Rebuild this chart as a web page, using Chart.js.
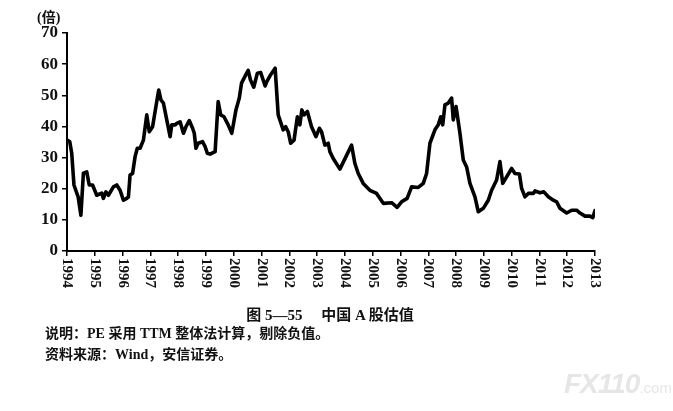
<!DOCTYPE html>
<html>
<head>
<meta charset="utf-8">
<script src="https://cdn.jsdelivr.net/npm/chart.js@4.4.0/dist/chart.umd.min.js"></script>
<style>
  body { margin: 0; background: #fff; }
  #wrap { position: relative; width: 673px; height: 411px; }
  .txt { position: absolute; color: #111; font-family: "Liberation Serif", "Noto Sans CJK SC", serif; font-weight: bold; white-space: nowrap; }
  #unit { left: 37px; top: 6px; font-size: 14px; }
  #title { left: 0; width: 660px; text-align: center; top: 303px; font-size: 15px; }
  #note1 { left: 45px; top: 322px; font-size: 14px; }
  #note2 { left: 45px; top: 343px; font-size: 14px; }
  #mark { left: 564px; top: 368px; font-family: "Liberation Sans", sans-serif; color: #e6e6e6; font-size: 28px; font-style: italic; letter-spacing: -1px; }
  #mark span { font-size: 15px; font-style: normal; font-weight: normal; letter-spacing: 0; }
</style>
</head>
<body>
<div id="wrap">
  <canvas id="peChart" width="673" height="411"></canvas>
  <div class="txt" id="unit">(倍)</div>
  <div class="txt" id="title">图 5—55　 中国 A 股估值</div>
  <div class="txt" id="note1">说明：PE 采用 TTM 整体法计算，剔除负值。</div>
  <div class="txt" id="note2">资料来源：Wind，安信证券。</div>
  <div class="txt" id="mark">FX110<span>.com</span></div>
</div>
<script>
// time in decimal years, A-share PE (TTM)
const dates = [1994.02, 1994.1, 1994.17, 1994.25, 1994.4, 1994.5, 1994.59, 1994.71, 1994.8, 1994.92,
  1995.07, 1995.25, 1995.31, 1995.4, 1995.49, 1995.67, 1995.79, 1995.91,
  1996.03, 1996.15, 1996.21, 1996.27, 1996.36, 1996.45, 1996.53, 1996.63, 1996.75, 1996.87, 1996.96,
  1997.08, 1997.2, 1997.3, 1997.38, 1997.47, 1997.59, 1997.71, 1997.77, 1997.89, 1997.95,
  1998.07, 1998.19, 1998.28, 1998.4, 1998.52, 1998.58, 1998.64, 1998.72, 1998.88, 1998.97,
  1999.05, 1999.15, 1999.33, 1999.44, 1999.53, 1999.65, 1999.8, 1999.93,
  2000.08, 2000.2, 2000.28, 2000.4, 2000.52, 2000.6, 2000.72, 2000.85, 2000.97,
  2001.13, 2001.19, 2001.33, 2001.49, 2001.6, 2001.72, 2001.78, 2001.87, 2001.96,
  2002.05, 2002.17, 2002.29, 2002.38, 2002.45, 2002.53, 2002.65, 2002.8, 2002.96,
  2003.08, 2003.16, 2003.28, 2003.4, 2003.46, 2003.58, 2003.82,
  2004.24, 2004.36, 2004.48, 2004.66, 2004.9,
  2005.14, 2005.38, 2005.68, 2005.88,
  2006.04, 2006.24, 2006.4, 2006.64, 2006.82, 2006.94,
  2007.06, 2007.24, 2007.36, 2007.45, 2007.52, 2007.6, 2007.72, 2007.84, 2007.9,
  2008.0, 2008.14, 2008.26, 2008.38, 2008.5, 2008.68, 2008.8, 2008.98,
  2009.16, 2009.28, 2009.46, 2009.58, 2009.68, 2009.82,
  2010.0, 2010.12, 2010.28, 2010.36, 2010.48, 2010.6, 2010.78, 2010.84,
  2011.02, 2011.16, 2011.32, 2011.5, 2011.62, 2011.74, 2011.98,
  2012.16, 2012.34, 2012.46, 2012.64, 2012.82, 2012.92, 2013.0];
const pe = [35.6, 35.1, 31.4, 21.2, 17.4, 11.5, 25.0, 25.4, 21.2, 21.2,
  17.9, 18.6, 16.9, 19.0, 17.9, 20.6, 21.2, 19.5,
  16.3, 16.9, 17.4, 24.4, 24.9, 30.3, 33.0, 33.0, 35.6, 43.7, 38.3,
  39.9, 46.4, 51.7, 48.5, 47.5, 42.1, 36.7, 40.5, 40.5, 41.0,
  41.5, 37.8, 39.9, 41.9, 39.4, 37.8, 33.0, 34.6, 35.1, 33.5,
  31.4, 31.1, 31.9, 48.0, 43.7, 43.1, 40.5, 37.8,
  45.3, 49.1, 53.9, 56.0, 58.0, 55.0, 52.6, 57.1, 57.3,
  53.0, 54.4, 56.6, 58.7, 43.7, 40.5, 38.9, 39.9, 38.3,
  34.6, 35.6, 43.1, 40.5, 45.3, 43.7, 44.8, 39.9, 36.7,
  39.4, 38.3, 34.0, 34.6, 31.9, 29.7, 26.3,
  34.0, 28.1, 24.9, 21.7, 19.5,
  18.5, 15.3, 15.5, 14.0,
  15.8, 16.9, 20.6, 20.4, 21.7, 24.9,
  34.6, 38.9, 40.5, 43.1, 40.5, 46.9, 47.5, 49.1, 42.1,
  46.4, 37.8, 29.2, 27.0, 21.7, 17.4, 12.6, 13.7,
  16.3, 19.5, 22.8, 28.7, 21.7, 23.8,
  26.5, 24.9, 24.7, 20.1, 17.4, 18.5, 18.5, 19.3,
  18.7, 19.0, 17.4, 16.3, 15.8, 13.7, 12.2,
  13.1, 13.1, 12.2, 11.2, 11.2, 10.7, 13.0];
const yearTicks = [1994, 1995, 1996, 1997, 1998, 1999, 2000, 2001, 2002, 2003,
  2004, 2005, 2006, 2007, 2008, 2009, 2010, 2011, 2012, 2013];
const yTicks = [0, 10, 20, 30, 40, 50, 60, 70];

const points = dates.map((d, i) => ({ x: d, y: pe[i] }));

// year labels read top to bottom, like the printed figure
const yearLabels = {
    id: 'yearLabels',
    afterDraw(chart) {
        const ctx = chart.ctx;
        const xs = chart.scales.x;
        ctx.save();
        ctx.font = 'bold 15px "Liberation Serif", serif';
        ctx.fillStyle = '#111';
        ctx.textAlign = 'left';
        ctx.textBaseline = 'middle';
        yearTicks.forEach(y => {
            ctx.save();
            ctx.translate(xs.getPixelForValue(y), xs.top + 7);
            ctx.rotate(Math.PI / 2);
            ctx.fillText(String(y), 0, 0);
            ctx.restore();
        });
        ctx.restore();
    }
};

const ctxPe = document.getElementById('peChart').getContext('2d');
const peChart = new Chart(ctxPe, {
    type: 'line',
    data: {
        datasets: [{
            label: 'PE',
            data: points,
            borderColor: '#000',
            borderWidth: 3.6,
            borderJoinStyle: 'round',
            borderCapStyle: 'round',
            pointRadius: 0,
            tension: 0,
            fill: false
        }]
    },
    options: {
        responsive: false,
        animation: false,
        layout: { padding: { top: 33, right: 78, left: 0, bottom: 0 } },
        plugins: { legend: { display: false }, tooltip: { enabled: false } },
        scales: {
            x: {
                type: 'linear',
                min: 1994,
                max: 2013,
                afterBuildTicks(scale) { scale.ticks = yearTicks.map(v => ({ value: v })); },
                afterFit(scale) { scale.height = 160; },
                ticks: { display: false },
                grid: { display: true, drawOnChartArea: false, drawTicks: true, tickLength: 5, color: '#000', lineWidth: 1.5 },
                border: { display: true, color: '#000', width: 2 }
            },
            y: {
                min: 0,
                max: 70,
                afterBuildTicks(scale) { scale.ticks = yTicks.map(v => ({ value: v })); },
                afterFit(scale) { scale.width = 67; },
                ticks: {
                    color: '#111',
                    padding: 4,
                    font: { family: '"Liberation Serif", serif', size: 17, weight: 'bold' }
                },
                grid: { display: true, drawOnChartArea: false, drawTicks: true, tickLength: 5, color: '#000', lineWidth: 1.5 },
                border: { display: true, color: '#000', width: 2 }
            }
        }
    },
    plugins: [yearLabels]
});
</script>
</body>
</html>
